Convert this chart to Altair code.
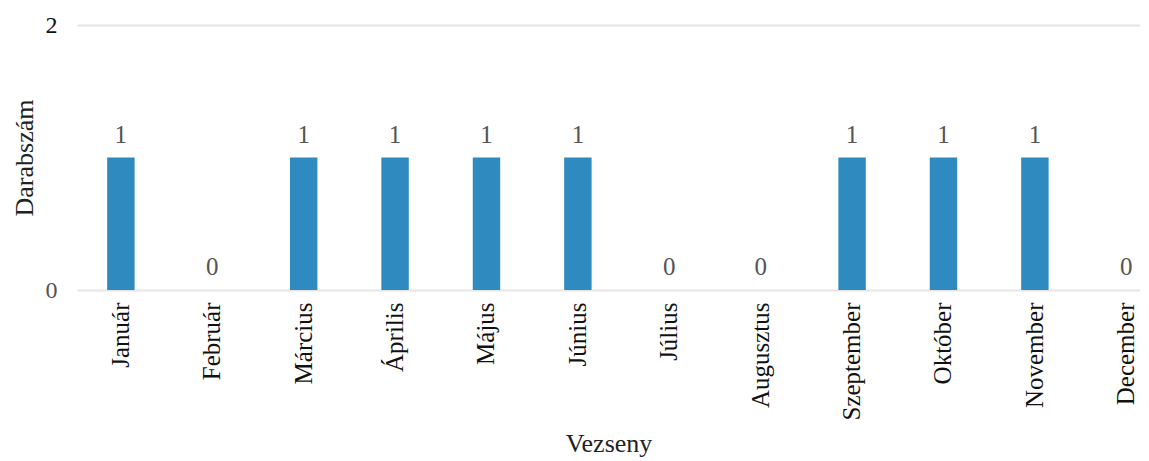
import altair as alt
import pandas as pd

months = ["Január", "Február", "Március", "Április", "Május", "Június",
          "Július", "Augusztus", "Szeptember", "Október", "November", "December"]
counts = [1, 0, 1, 1, 1, 1, 0, 0, 1, 1, 1, 0]

df = pd.DataFrame({"Vezseny": months, "Darabszám": counts})

FONT = "Liberation Serif"

x = alt.X("Vezseny:N", sort=months,
          scale=alt.Scale(paddingInner=0.70, paddingOuter=0.165, align=1),
          axis=alt.Axis(title="Vezseny", labelAngle=-90, labelAlign="right",
                        labelBaseline="middle", labelFontSize=25, labelColor="#111",
                        labelFont=FONT, titleFont=FONT, titleFontSize=26,
                        titleFontWeight="normal", titleColor="#222",
                        domain=False, ticks=False, labelPadding=12, titlePadding=10))
y = alt.Y("Darabszám:Q", scale=alt.Scale(domain=[0, 2]),
          axis=alt.Axis(title="Darabszám", values=[0, 1, 2], format="d",
                        labelFontSize=24,
                        labelColor={"expr": "datum.value == 2 ? '#111' : '#555'"},
                        labelFont=FONT,
                        titleFont=FONT, titleFontSize=26, titleFontWeight="normal",
                        titleColor="#222", domain=False, ticks=False,
                        labelPadding=20, titlePadding=8,
                        grid=True, gridColor="#e6e6e6", gridWidth=2))

bars = alt.Chart(df).mark_bar(color="#2f8abf").encode(x=x, y=y)
text = alt.Chart(df).mark_text(dy=-15, baseline="alphabetic", fontSize=25,
                               font=FONT, color="#555").encode(
    x=alt.X("Vezseny:N", sort=months), y="Darabszám:Q", text="Darabszám:Q")

chart = (bars + text).properties(
    width=1063, height=265,
    autosize=alt.AutoSizeParams(type="none"),
    padding={"left": 69, "top": 17, "right": 0, "bottom": 170},
).configure_view(stroke=None)

chart.save("out.html", embed_options={"renderer": "svg", "actions": False})
